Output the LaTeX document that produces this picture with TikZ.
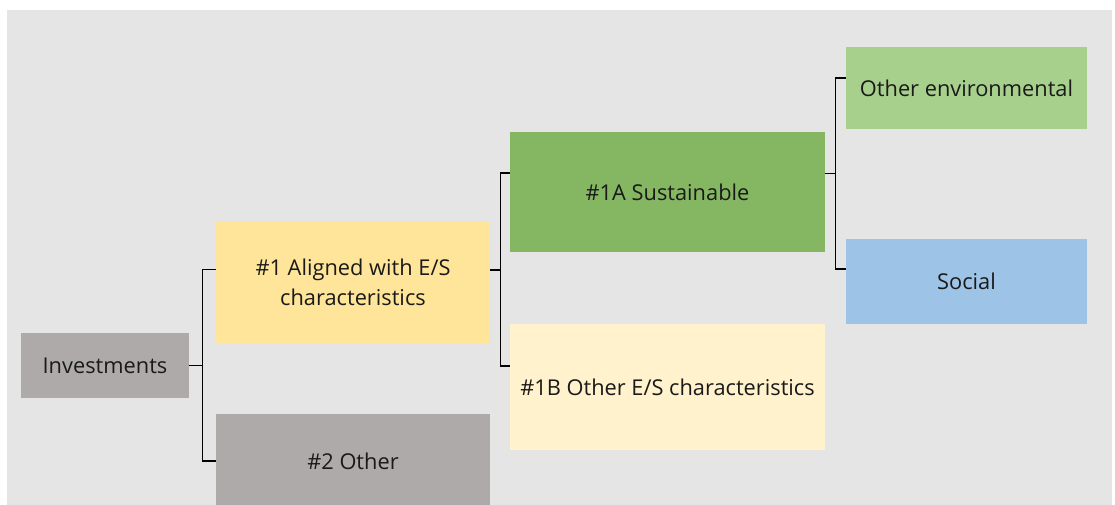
\documentclass[tikz,border=0pt]{standalone}
\usepackage{fontspec}
\setmainfont{Open Sans}
\usepackage{xcolor}
\usepackage{tikz}
\usetikzlibrary{positioning}

\definecolor{bggray}{HTML}{E5E5E5}
\definecolor{boxgray}{HTML}{AEAAAA}
\definecolor{boxyellow}{HTML}{FFE599}
\definecolor{boxcream}{HTML}{FFF2CC}
\definecolor{boxgreen}{HTML}{85B762}
\definecolor{boxlgreen}{HTML}{A8D08D}
\definecolor{boxblue}{HTML}{9DC3E6}
\definecolor{txtdark}{HTML}{1A1A1A}

\begin{document}
\begin{tikzpicture}[x=1pt, y=-1pt,
    box/.style={rectangle, inner sep=0pt, align=center, text=txtdark,
        font=\fontsize{21.8}{30}\selectfont},
    tree/.style={draw=black, line width=1.3pt}]
    \useasboundingbox (0,0) rectangle (1115,505);
    \fill[bggray] (7,10) rectangle (1112,505); % grey panel

    % level 0 and 1
    \node[box, fill=boxgray, minimum width=168pt, minimum height=65pt] (inv) at (105,365.5) {Investments};
    \node[box, fill=boxyellow, minimum width=274pt, minimum height=121pt] (al) at (353,282.5) {\#1 Aligned with E/S\\characteristics};
    \node[box, fill=boxgray, minimum width=274pt, minimum height=94pt] (oth) at (353,461) {\#2 Other};

    % level 2
    \node[box, fill=boxgreen, minimum width=315pt, minimum height=120pt] (sus) at (667.5,192) {\#1A Sustainable};
    \node[box, fill=boxcream, minimum width=315pt, minimum height=126pt] (oes) at (667.5,387) {\#1B Other E/S characteristics};

    % level 3
    \node[box, fill=boxlgreen, minimum width=241pt, minimum height=82pt] (env) at (966.5,88) {Other environmental};
    \node[box, fill=boxblue, minimum width=241pt, minimum height=85pt] (soc) at (966.5,281.5) {Social};

    % connectors
    \draw[tree] (inv.east) -- ++(13,0) coordinate (j1);
    \draw[tree] (j1) |- ([yshift=13pt]al.west);
    \draw[tree] (j1) |- (oth.west);
    \draw[tree] ([yshift=12.5pt]al.east) -- ++(10,0) coordinate (j2);
    \draw[tree] (j2) |- ([yshift=19pt]sus.west);
    \draw[tree] (j2) |- ([yshift=21pt]oes.west);
    \draw[tree] ([yshift=18.5pt]sus.east) -- ++(10,0) coordinate (j3);
    \draw[tree] (j3) |- ([yshift=10pt]env.west);
    \draw[tree] (j3) |- ([yshift=12.5pt]soc.west);
\end{tikzpicture}
\end{document}
